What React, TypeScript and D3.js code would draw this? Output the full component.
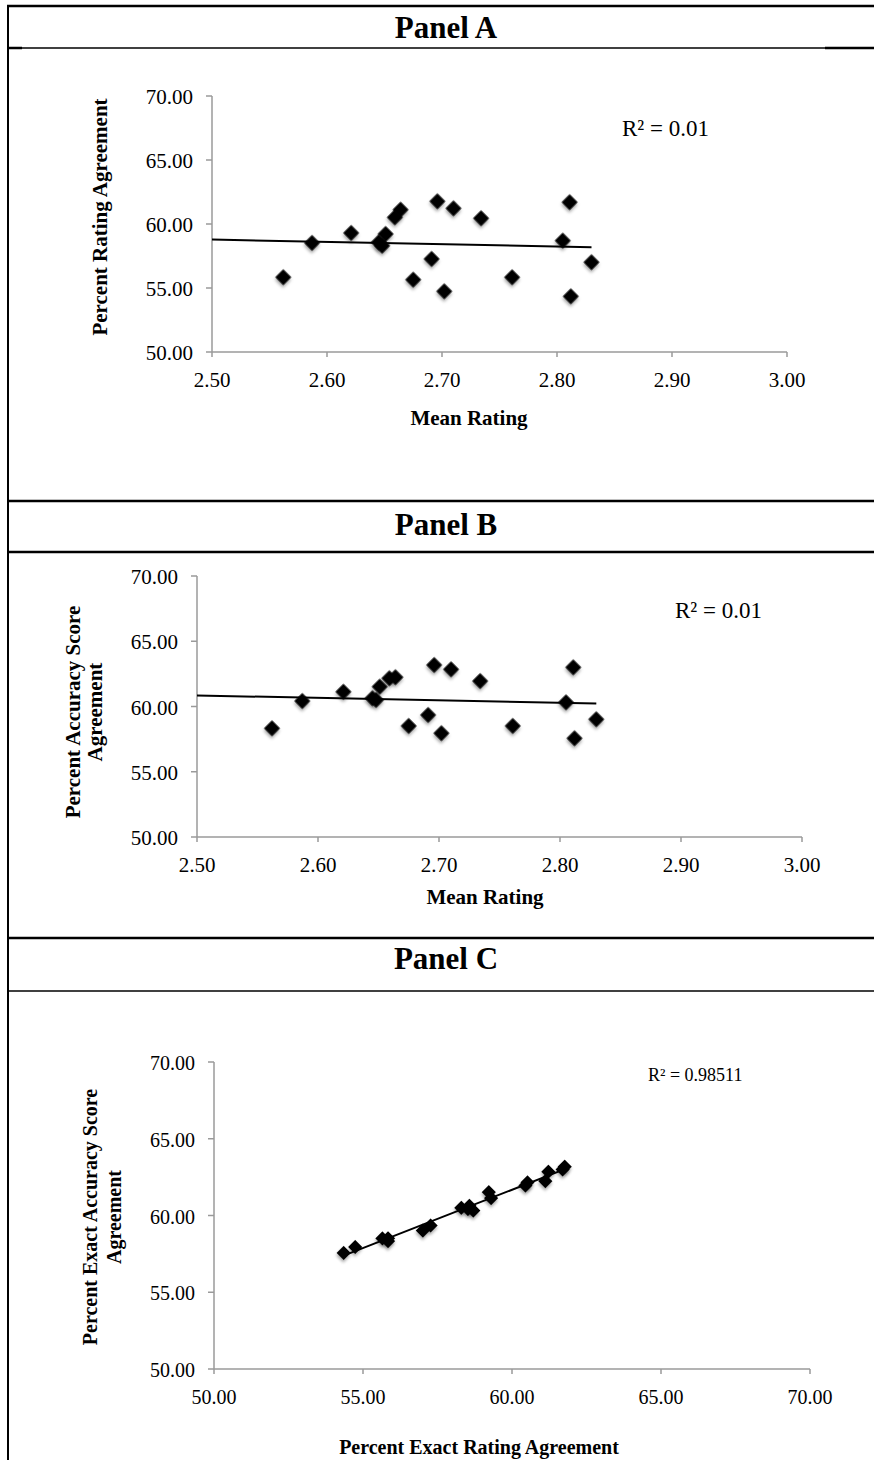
import React from 'react';
import * as d3 from 'd3';

// ---- Data ----
const meanRating = [2.562, 2.587, 2.621, 2.645, 2.648, 2.651, 2.659, 2.664, 2.675, 2.691, 2.696, 2.702, 2.710, 2.734, 2.761, 2.805, 2.811, 2.812, 2.830];
const ratingAgreement = [55.84, 58.52, 59.30, 58.57, 58.30, 59.22, 60.52, 61.12, 55.65, 57.27, 61.77, 54.74, 61.22, 60.45, 55.84, 58.70, 61.70, 54.35, 57.01];
const accuracyAgreement = [58.33, 60.42, 61.13, 60.63, 60.50, 61.52, 62.16, 62.24, 58.51, 59.35, 63.18, 57.95, 62.85, 61.95, 58.51, 60.32, 63.00, 57.56, 59.02];
const meanRatingTicks = [2.5, 2.6, 2.7, 2.8, 2.9, 3.0];
const percentTicks = [50, 55, 60, 65, 70];
const panelTitles = ['Panel A', 'Panel B', 'Panel C'];
const rSquaredLabels = ['R² = 0.01', 'R² = 0.01', 'R² = 0.98511'];
const xTitles = ['Mean Rating', 'Mean Rating', 'Percent Exact Rating Agreement'];
const yTitles = [
  ['Percent Rating Agreement'],
  ['Percent Accuracy Score', 'Agreement'],
  ['Percent Exact Accuracy Score', 'Agreement'],
];

const FONT = '"Liberation Serif", "Times New Roman", Times, serif';
const fmt = d3.format('.2f');

type Cfg = {
  xs: number[]; ys: number[];
  xDomain: [number, number]; yDomain: [number, number];
  xTicks: number[]; yTicks: number[];
  xRange: [number, number]; yRange: [number, number];
  trendFromAxis: boolean;
  markerArea: number;
  xTitle: string; xTitlePos: [number, number];
  yTitle: string[]; yTitleX: number[]; yTitleY: number;
  r2: string; r2Pos: [number, number]; r2Size: number;
  tickSize: number; titleSize: number;
};

function Scatter({ c }: { c: Cfg }) {
  const x = d3.scaleLinear().domain(c.xDomain).range(c.xRange);
  const y = d3.scaleLinear().domain(c.yDomain).range(c.yRange);
  const pts = c.xs.map((v, i) => [v, c.ys[i]] as [number, number]);
  const mx = d3.mean(c.xs) as number;
  const my = d3.mean(c.ys) as number;
  const sxy = d3.sum(pts, (p) => (p[0] - mx) * (p[1] - my));
  const sxx = d3.sum(c.xs, (v) => (v - mx) * (v - mx));
  const slope = sxy / sxx;
  const icpt = my - slope * mx;
  const t0 = c.trendFromAxis ? c.xDomain[0] : (d3.min(c.xs) as number);
  const t1 = d3.max(c.xs) as number;
  const trend = d3.line<number>().x((d) => x(d)).y((d) => y(slope * d + icpt))([t0, t1]) || '';
  const sym = d3.symbol(d3.symbolSquare, c.markerArea)() || '';
  const x0 = x(c.xDomain[0]);
  const y0 = y(c.yDomain[0]);
  const axisColor = '#9a9a9a';
  return (
    <g>
      <line x1={x0} x2={x(c.xDomain[1])} y1={y0} y2={y0} stroke={axisColor} strokeWidth={1.5} />
      <line x1={x0} x2={x0} y1={y0} y2={y(c.yDomain[1])} stroke={axisColor} strokeWidth={1.5} />
      {c.xTicks.map((t) => (
        <g key={'xt' + t}>
          <line x1={x(t)} x2={x(t)} y1={y0} y2={y0 + 5} stroke={axisColor} strokeWidth={1.5} />
          <text x={x(t)} y={y0 + 28} textAnchor="middle" dominantBaseline="central" fontFamily={FONT} fontSize={c.tickSize} fill="#000">{fmt(t)}</text>
        </g>
      ))}
      {c.yTicks.map((t) => (
        <g key={'yt' + t}>
          <line x1={x0 - 6} x2={x0} y1={y(t)} y2={y(t)} stroke={axisColor} strokeWidth={1.5} />
          <text x={x0 - 19} y={y(t) + 1} textAnchor="end" dominantBaseline="central" fontFamily={FONT} fontSize={c.tickSize} fill="#000">{fmt(t)}</text>
        </g>
      ))}
      <path d={trend} fill="none" stroke="#000" strokeWidth={2} />
      {pts.map((p, i) => (
        <path key={i} d={sym} transform={`translate(${x(p[0])},${y(p[1])}) rotate(45)`} fill="#000" filter="url(#shadow)" />
      ))}
      <text x={c.xTitlePos[0]} y={c.xTitlePos[1]} textAnchor="middle" dominantBaseline="central" fontFamily={FONT} fontWeight="bold" fontSize={c.titleSize} fill="#000">{c.xTitle}</text>
      {c.yTitle.map((s, i) => (
        <text key={s} transform={`translate(${c.yTitleX[i]},${c.yTitleY}) rotate(-90)`} textAnchor="middle" dominantBaseline="central" fontFamily={FONT} fontWeight="bold" fontSize={c.titleSize} fill="#000">{s}</text>
      ))}
      <text x={c.r2Pos[0]} y={c.r2Pos[1]} dominantBaseline="central" fontFamily={FONT} fontSize={c.r2Size} fill="#000">{c.r2}</text>
    </g>
  );
}

const panels: Cfg[] = [
  {
    xs: meanRating, ys: ratingAgreement, xDomain: [2.5, 3.0], yDomain: [50, 70],
    xTicks: meanRatingTicks, yTicks: percentTicks, xRange: [212, 787], yRange: [352, 96],
    trendFromAxis: true, markerArea: 128,
    xTitle: xTitles[0], xTitlePos: [469, 418],
    yTitle: yTitles[0], yTitleX: [100], yTitleY: 217,
    r2: rSquaredLabels[0], r2Pos: [622, 128], r2Size: 23, tickSize: 21, titleSize: 21,
  },
  {
    xs: meanRating, ys: accuracyAgreement, xDomain: [2.5, 3.0], yDomain: [50, 70],
    xTicks: meanRatingTicks, yTicks: percentTicks, xRange: [197, 802], yRange: [837, 576],
    trendFromAxis: true, markerArea: 128,
    xTitle: xTitles[1], xTitlePos: [485, 897],
    yTitle: yTitles[1], yTitleX: [73, 95], yTitleY: 712,
    r2: rSquaredLabels[1], r2Pos: [675, 610], r2Size: 23, tickSize: 21, titleSize: 21,
  },
  {
    xs: ratingAgreement, ys: accuracyAgreement, xDomain: [50, 70], yDomain: [50, 70],
    xTicks: percentTicks, yTicks: percentTicks, xRange: [214, 810], yRange: [1369, 1062],
    trendFromAxis: false, markerArea: 100,
    xTitle: xTitles[2], xTitlePos: [479, 1447],
    yTitle: yTitles[2], yTitleX: [90, 114], yTitleY: 1217,
    r2: rSquaredLabels[2], r2Pos: [648, 1075], r2Size: 18, tickSize: 20, titleSize: 20,
  },
];

const headerTitleY = [27, 524, 958];

export default function App() {
  return (
    <svg width={874} height={1460} style={{ position: 'absolute', left: 0, top: 0, background: '#fff' }}>
      <defs>
        <filter id="shadow" x="-50%" y="-50%" width="200%" height="200%">
          <feDropShadow dx={1.5} dy={2} stdDeviation={1.5} floodColor="#000" floodOpacity={0.35} />
        </filter>
      </defs>
      <rect x={0} y={0} width={874} height={1460} fill="#fff" />
      <line x1={8} x2={8} y1={5} y2={1460} stroke="#000" strokeWidth={2} />
      <line x1={7} x2={874} y1={6} y2={6} stroke="#000" strokeWidth={2.5} />
      <line x1={7} x2={874} y1={48} y2={48} stroke="#000" strokeWidth={1.5} />
      <line x1={7} x2={22} y1={48} y2={48} stroke="#000" strokeWidth={2.5} />
      <line x1={825} x2={874} y1={48} y2={48} stroke="#000" strokeWidth={2.5} />
      <line x1={7} x2={874} y1={501} y2={501} stroke="#000" strokeWidth={2.5} />
      <line x1={7} x2={874} y1={552} y2={552} stroke="#000" strokeWidth={2.5} />
      <line x1={7} x2={874} y1={938} y2={938} stroke="#000" strokeWidth={2.5} />
      <line x1={7} x2={874} y1={991} y2={991} stroke="#000" strokeWidth={1.5} />
      {panelTitles.map((t, i) => (
        <text key={t} x={446} y={headerTitleY[i]} textAnchor="middle" dominantBaseline="central" fontFamily={FONT} fontWeight="bold" fontSize={31} fill="#000">{t}</text>
      ))}
      {panels.map((c, i) => <Scatter key={i} c={c} />)}
    </svg>
  );
}
